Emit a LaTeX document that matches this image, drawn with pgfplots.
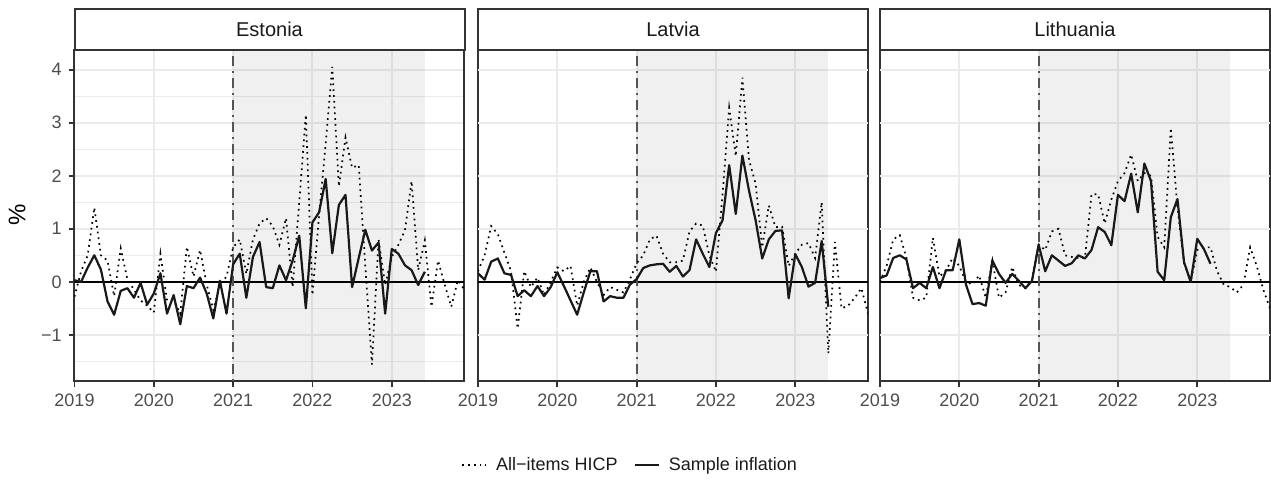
\documentclass[border=0pt]{standalone}
\usepackage{fontspec}
\setmainfont{Liberation Sans}
\usepackage{pgfplots}
\usepackage{pgfplotstable}
\pgfplotsset{compat=1.18}

\definecolor{gridc}{RGB}{235,235,235}
\definecolor{borderc}{RGB}{51,51,51}
\definecolor{tickc}{RGB}{77,77,77}
\definecolor{textc}{RGB}{26,26,26}
\definecolor{vlinec}{RGB}{85,85,85}

% m = months since Jan 2019; hicp = All-items HICP; samp = Sample inflation
\pgfplotstableread{
m hicp samp
0 -0.28 0.03
1 0.2 0.0
2 0.5 0.27
3 1.4 0.5
4 0.5 0.23
5 0.4 -0.37
6 -0.27 -0.62
7 0.63 -0.17
8 0.05 -0.12
9 -0.15 -0.3
10 -0.35 -0.02
11 -0.45 -0.43
12 -0.58 -0.22
13 0.53 0.16
14 -0.35 -0.6
15 -0.35 -0.25
16 -0.6 -0.8
17 0.66 -0.08
18 0.1 -0.12
19 0.6 0.08
20 -0.05 -0.22
21 -0.53 -0.69
22 -0.05 0.02
23 0.1 -0.6
24 0.65 0.33
25 0.8 0.53
26 0.15 -0.3
27 0.8 0.47
28 1.1 0.75
29 1.2 -0.1
30 1.05 -0.12
31 0.7 0.31
32 1.2 0.03
33 -0.1 0.4
34 1.5 0.87
35 3.15 -0.5
36 -0.25 1.12
37 1.25 1.31
38 2.6 1.94
39 4.05 0.54
40 1.8 1.45
41 2.72 1.64
42 2.15 -0.1
43 2.2 0.45
44 0.3 0.98
45 -1.56 0.59
46 0.8 0.74
47 -0.06 -0.6
48 0.47 0.62
49 0.7 0.53
50 0.97 0.31
51 1.9 0.22
52 0.22 -0.06
53 0.78 0.19
54 -0.47 nan
55 0.4 nan
56 -0.05 nan
57 -0.47 nan
58 0.03 nan
59 -0.15 nan
}\est

\pgfplotstableread{
m hicp samp
0 0.2 0.16
1 0.5 0.04
2 1.05 0.38
3 0.9 0.44
4 0.55 0.16
5 0.2 0.13
6 -0.88 -0.27
7 0.2 -0.16
8 -0.1 -0.27
9 0.08 -0.08
10 -0.25 -0.27
11 0.0 -0.1
12 0.27 0.18
13 0.2 -0.08
14 0.3 -0.35
15 -0.45 -0.62
16 0.0 -0.2
17 0.27 0.2
18 0.0 0.2
19 -0.25 -0.37
20 -0.1 -0.27
21 -0.15 -0.3
22 -0.2 -0.3
23 0.05 -0.05
24 0.35 0.05
25 0.5 0.26
26 0.8 0.31
27 0.87 0.33
28 0.53 0.34
29 0.37 0.19
30 0.37 0.3
31 0.4 0.1
32 0.95 0.22
33 1.1 0.8
34 1.06 0.53
35 0.5 0.28
36 0.19 0.92
37 1.65 1.16
38 3.28 2.2
39 2.37 1.28
40 3.85 2.38
41 2.3 1.72
42 1.85 1.16
43 0.65 0.44
44 1.44 0.8
45 1.03 0.96
46 1.04 0.97
47 0.3 -0.31
48 0.53 0.52
49 0.7 0.28
50 0.73 -0.09
51 0.45 -0.02
52 1.5 0.77
53 -1.35 -0.47
54 0.75 nan
55 -0.5 nan
56 -0.45 nan
57 -0.3 nan
58 -0.12 nan
59 -0.6 nan
}\lva

\pgfplotstableread{
m hicp samp
0 0.0 0.07
1 0.3 0.12
2 0.8 0.45
3 0.88 0.5
4 0.45 0.42
5 -0.3 -0.12
6 -0.35 -0.02
7 -0.3 -0.12
8 0.83 0.28
9 0.1 -0.12
10 0.22 0.22
11 0.45 0.22
12 0.3 0.8
13 0.0 -0.05
14 -0.05 -0.42
15 0.12 -0.4
16 -0.3 -0.45
17 0.4 0.4
18 -0.3 0.15
19 -0.2 -0.02
20 0.28 0.15
21 -0.06 0.02
22 -0.12 -0.12
23 0.05 0.02
24 0.7 0.7
25 0.6 0.2
26 0.95 0.5
27 1.0 0.4
28 0.5 0.3
29 0.47 0.35
30 0.45 0.5
31 0.45 0.44
32 1.65 0.6
33 1.65 1.03
34 1.1 0.94
35 1.55 0.69
36 1.9 1.64
37 2.05 1.52
38 2.4 2.04
39 1.9 1.31
40 2.05 2.23
41 2.0 1.9
42 0.85 0.19
43 0.65 0.03
44 2.9 1.22
45 1.4 1.56
46 0.35 0.37
47 0.0 0.0
48 0.6 0.81
49 0.65 0.62
50 0.65 0.34
51 0.2 nan
52 -0.05 nan
53 -0.1 nan
54 -0.2 nan
55 -0.05 nan
56 0.65 nan
57 0.3 nan
58 -0.15 nan
59 -0.5 nan
}\ltu

\pgfplotsset{
  panel/.style={
    scale only axis, width=195pt, height=165.75pt,
    xmin=2019, xmax=2023.9167, ymin=-1.87, ymax=4.38,
    xtick={2019,2020,2021,2022,2023},
    xticklabels={2019,2020,2021,2022,2023},
    minor ytick={-1.5,-0.5,0.5,1.5,2.5,3.5},
    grid=both,
    major grid style={gridc, line width=1pt},
    minor grid style={gridc, line width=0.5pt},
    tick align=outside, tick pos=left,
    major tick length=3pt, minor tick length=0pt,
    tick style={borderc, line width=0.9pt},
    axis line style={borderc, line width=1pt},
    tick label style={font=\fontsize{9}{10}\selectfont, text=tickc},
    xticklabel style={inner sep=0pt, yshift=-3.3pt},
    yticklabel style={inner sep=0pt, xshift=-3.2pt},
    unbounded coords=jump,
  },
  shade/.style={draw=none, fill=black, fill opacity=0.058, forget plot},
  zeroline/.style={black, line width=0.9pt, forget plot},
  vline/.style={vlinec, line width=0.9pt, dash pattern=on 1pt off 2.5pt on 5pt off 2.5pt, forget plot},
  hicp/.style={black, line width=0.85pt, dash pattern=on 0.85pt off 2.05pt, line cap=butt},
  samp/.style={black!90, line width=1.1pt, line join=round},
}

\newcommand{\panelbody}[1]{%
  \addplot[shade] coordinates {(2021,-1.87) (2021,4.38) (2023.4167,4.38) (2023.4167,-1.87)} -- cycle;
  \addplot[zeroline] coordinates {(2019,0) (2023.9167,0)};
  \addplot[vline] coordinates {(2021,-1.87) (2021,4.38)};
  \addplot[hicp] table[x expr=2019+\thisrow{m}/12, y=hicp] {#1};
  \addplot[samp] table[x expr=2019+\thisrow{m}/12, y=samp] {#1};
}

\begin{document}
\begin{tikzpicture}[x=1pt,y=1pt]
\useasboundingbox (0,0) rectangle (635.5,-239.5);

% Estonia
\begin{axis}[panel, at={(37.25pt,-24.75pt)}, anchor=north west,
  ytick={-1,0,1,2,3,4}, yticklabels={−1,0,1,2,3,4}]
\panelbody{\est}
\end{axis}

% Latvia
\begin{axis}[panel, at={(239pt,-24.75pt)}, anchor=north west,
  ytick=\empty,
  extra y ticks={-1,0,1,2,3,4}, extra y tick labels={},
  extra y tick style={grid=major, major tick length=0pt},
  legend columns=2,
  legend style={at={(-0.0436,-0.2534)}, anchor=west, draw=none, fill=none,
    inner sep=0pt, font=\fontsize{9}{10}\selectfont, text=textc,
    nodes={inner sep=0pt},
    /tikz/every odd column/.append style={column sep=4.5pt},
    /tikz/every even column/.append style={column sep=8pt}},
  legend image code/.code={\draw[#1] (0pt,0pt) -- (12pt,0pt);},
  ]
\panelbody{\lva}
\addlegendentry{All−items HICP}
\addlegendentry{Sample inflation}
\end{axis}

% Lithuania
\begin{axis}[panel, at={(440pt,-24.75pt)}, anchor=north west,
  ytick=\empty,
  extra y ticks={-1,0,1,2,3,4}, extra y tick labels={},
  extra y tick style={grid=major, major tick length=0pt}]
\panelbody{\ltu}
\end{axis}

% facet strips
\foreach \L/\name in {37.25/Estonia, 239/Latvia, 440/Lithuania}{
  \draw[borderc, line width=1pt, fill=white] (\L,-4.35) rectangle (\L+195,-24.75);
  \node[font=\fontsize{10}{12}\selectfont, text=textc] at (\L+97.5,-14.55) {\name};
}

% y axis title
\node[rotate=90, font=\fontsize{12}{14}\selectfont, text=black] at (8.5,-107.5) {\%};
\end{tikzpicture}
\end{document}
